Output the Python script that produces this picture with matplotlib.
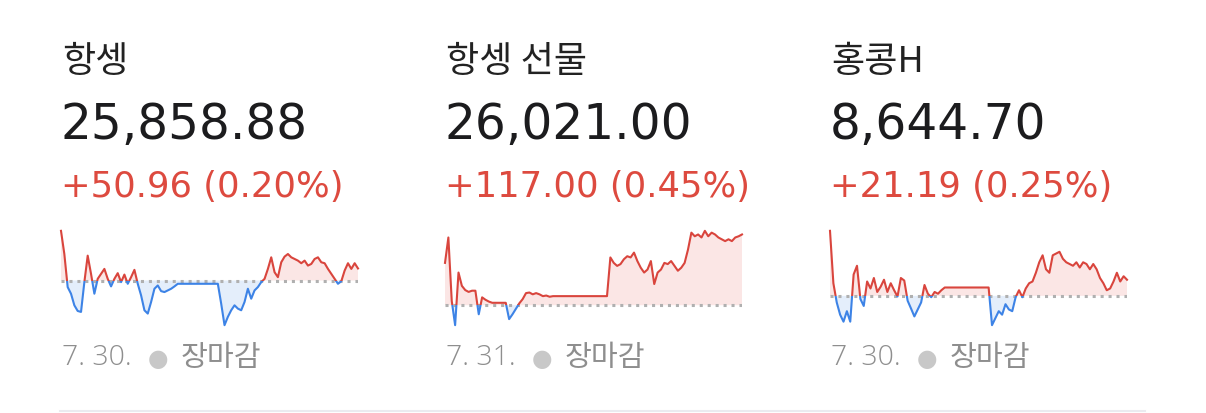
import numpy as np
import matplotlib
matplotlib.use("Agg")
import matplotlib.pyplot as plt
from matplotlib.patches import Rectangle
from matplotlib.lines import Line2D

plt.rcParams['font.family'] = ['Noto Sans CJK KR', 'DejaVu Sans']
NUM_FONT = ['DejaVu Sans']

# chart data
names = ["항셍", "항셍 선물", "홍콩H"]
prices = ["25,858.88", "26,021.00", "8,644.70"]
changes = ["+50.96 (0.20%)", "+117.00 (0.45%)", "+21.19 (0.25%)"]
dates = ["7. 30.", "7. 31.", "7. 30."]
status = "장마감"
prev_close = [25807.92, 25904.00, 8623.51]

hsi = [26018, 25920, 25780, 25752, 25703, 25679, 25675, 25801, 25913, 25836,
       25752, 25815, 25836, 25857, 25815, 25783, 25815, 25839, 25801, 25833,
       25794, 25822, 25853, 25794, 25745, 25682, 25668, 25717, 25773, 25787,
       25763, 25759, 25766, 25773, 25783, 25794,
       25794, 25794, 25794, 25794, 25794, 25794, 25794, 25794, 25794, 25794,
       25794, 25794,
       25710, 25619, 25654, 25682, 25703, 25689, 25682, 25717, 25773, 25731,
       25766, 25780, 25801, 25815, 25857, 25906, 25843, 25822, 25885, 25909,
       25920, 25906, 25899, 25892, 25881, 25892, 25871, 25878, 25899, 25906,
       25885, 25881, 25857, 25836, 25815, 25794, 25805, 25850, 25881, 25857,
       25881, 25858.88]

hsi_fut = [25974, 26016, 25911, 25871, 25958, 25936, 25929, 25926, 25928, 25928,
           25889, 25917, 25913, 25910, 25908, 25908, 25908, 25908, 25908, 25881,
           25889, 25898, 25907, 25914, 25924, 25925, 25922, 25924, 25922, 25919,
           25920, 25918,
           25919, 25919, 25919, 25919, 25919, 25919, 25919, 25919, 25919, 25919,
           25919, 25919, 25919, 25919, 25919, 25919, 25919,
           25983, 25974, 25969, 25972, 25980, 25985, 25983, 25991, 25977, 25966,
           25958, 25963, 25977, 25939, 25958, 25963, 25974, 25972, 25977, 25969,
           25961, 25966, 25974, 25996, 26024, 26018, 26021, 26016, 26027, 26018,
           26024, 26021, 26016, 26013, 26010, 26013, 26010, 26016, 26018, 26021]

hscei = [8709.1, 8640.1, 8614.8, 8598.7, 8589.5, 8603.3, 8589.5, 8651.6, 8663.1, 8619.4,
         8610.2, 8642.4, 8633.2, 8647.0, 8628.6, 8635.5, 8644.7, 8628.6, 8640.1, 8630.9,
         8622.6, 8647.0, 8643.7, 8617.1, 8606.9, 8596.4, 8605.6, 8614.8, 8637.8, 8626.3,
         8621.7, 8628.6, 8626.3, 8630.9,
         8634.5, 8634.5, 8634.5, 8634.5, 8634.5, 8634.5, 8634.5, 8634.5, 8634.5, 8634.5,
         8634.5, 8634.5, 8634.5, 8634.5,
         8584.9, 8594.1, 8603.3, 8598.7, 8612.5, 8605.6, 8603.3, 8621.7, 8630.9, 8621.7,
         8633.2, 8640.1, 8642.4, 8653.9, 8667.7, 8676.9, 8658.5, 8653.9, 8676.9, 8679.2,
         8681.5, 8672.3, 8667.7, 8665.4, 8663.1, 8667.7, 8660.8, 8667.7, 8665.4, 8658.5,
         8665.4, 8658.5, 8647.0, 8640.1, 8630.9, 8633.2, 8642.4, 8653.9, 8642.4, 8649.3,
         8644.7]

series = [hsi, hsi_fut, hscei]

RED = '#d9453d'
BLUE = '#3d83e6'
W, H = 1206, 413

fig = plt.figure(figsize=(W / 100, H / 100), dpi=100)
fig.patch.set_facecolor('white')

lefts = [61, 445, 830]
for i in range(3):
    x0 = lefts[i]
    vals = np.array(series[i], dtype=float)
    base = prev_close[i]
    xs = np.arange(len(vals))

    # header texts
    fig.text((x0 + 1) / W, 1 - 62 / H, names[i], fontsize=26, color='#222222',
             va='center', ha='left')
    fig.text(x0 / W, 1 - 125 / H, prices[i], fontsize=35, color='#1c1c1e',
             va='center', ha='left', family=NUM_FONT)
    fig.text(x0 / W, 1 - 187 / H, changes[i], fontsize=25.5, color='#dd4a3f',
             va='center', ha='left', family=NUM_FONT)

    # footer
    fig.text((x0 + 1) / W, 1 - 358 / H, dates[i], fontsize=20.5, color='#8e8e8e',
             va='center', ha='left', family=['Open Sans'], fontweight='light')
    fig.text((x0 + 97) / W, 1 - 359 / H, "●", fontsize=17, color='#c8c8c8',
             va='center', ha='center', family=['DejaVu Sans'])
    fig.text((x0 + 120) / W, 1 - 358 / H, status, fontsize=21, color='#8e8e8e',
             va='center', ha='left')

    # sparkline
    ax = fig.add_axes([x0 / W, 1 - 328 / H, 297 / W, 100 / H])
    ax.fill_between(xs, vals, base, where=vals >= base, interpolate=True,
                    color='#fbe6e5', lw=0)
    ax.fill_between(xs, vals, base, where=vals <= base, interpolate=True,
                    color='#e4eefb', lw=0)
    ax.axhline(base, color='#b0b0b0', lw=2.2, ls=(0, (1, 1.6)))

    up, = ax.plot(xs, vals, color=RED, lw=1.5)
    dn, = ax.plot(xs, vals, color=BLUE, lw=1.5)
    up.set_clip_path(Rectangle((-1, base), len(vals) + 2, 1e6, transform=ax.transData))
    dn.set_clip_path(Rectangle((-1, base - 1e6), len(vals) + 2, 1e6, transform=ax.transData))

    ax.set_xlim(0, len(vals) - 1)
    lo, hi = vals.min(), vals.max()
    pad = (hi - lo) * 0.03
    ax.set_ylim(lo - pad, hi + pad)
    ax.axis('off')

# bottom separator
fig.add_artist(Line2D([60 / W, 1145 / W], [1 - 411 / H, 1 - 411 / H],
                      color='#ebebf0', lw=1.5, transform=fig.transFigure))

fig.savefig('out.png', dpi=100, facecolor='white')
